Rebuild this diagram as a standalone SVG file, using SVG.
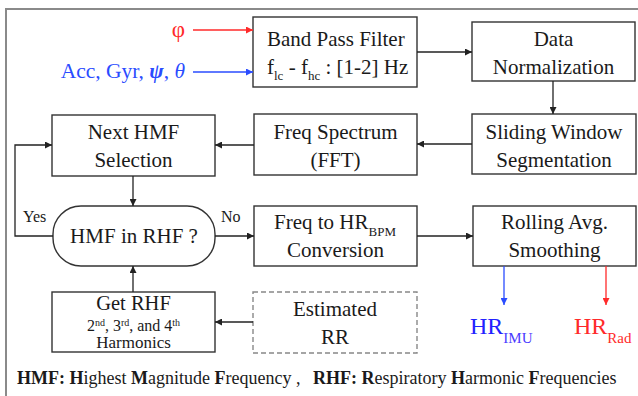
<svg xmlns="http://www.w3.org/2000/svg" width="638" height="396" viewBox="0 0 638 396" font-family="'Liberation Serif', 'Times New Roman', serif">
<defs>
<marker id="ah" viewBox="0 0 10 10" refX="10" refY="5" markerWidth="8" markerHeight="7" markerUnits="userSpaceOnUse" orient="auto"><path d="M0,0 L10,5 L0,10 z" fill="#222"/></marker>
<marker id="ahr" viewBox="0 0 10 10" refX="10" refY="5" markerWidth="8" markerHeight="7" markerUnits="userSpaceOnUse" orient="auto"><path d="M0,0 L10,5 L0,10 z" fill="#ff2a2a"/></marker>
<marker id="ahb" viewBox="0 0 10 10" refX="10" refY="5" markerWidth="8" markerHeight="7" markerUnits="userSpaceOnUse" orient="auto"><path d="M0,0 L10,5 L0,10 z" fill="#2a4cff"/></marker>
<style>
text, tspan { font-family: 'Liberation Serif', 'Times New Roman', serif; }
text { fill: #1a1a1a; }
.t { font-size: 21px; text-anchor: middle; }
.box { fill: #fff; stroke: #333; stroke-width: 1.4; }
.dash { fill: #fff; stroke: #888; stroke-width: 1.4; stroke-dasharray: 5,3; }
.ln { fill: none; stroke: #222; stroke-width: 1.3; marker-end: url(#ah); }
.lab { font-size: 16px; }
.leg { font-size: 18px; }
.b { font-weight: bold; }
</style>
</defs>
<rect x="0" y="0" width="638" height="396" fill="#fff"/>
<rect x="6" y="9" width="640" height="400" fill="none" stroke="#8a8a8a" stroke-width="2"/>

<g id="inputs">
<text x="185" y="37" font-size="23" text-anchor="end" style="fill:#ff2a2a">φ</text>
<text x="185" y="78" font-size="21.5" text-anchor="end" style="fill:#2a4cff">Acc, Gyr, <tspan font-weight="bold" font-style="italic">ψ</tspan>, <tspan font-style="italic">θ</tspan></text>
</g>

<g id="bpf">
<rect class="box" x="253" y="17" width="164" height="70"/>
<text x="267" y="46" font-size="21">Band Pass Filter</text>
<text x="267" y="74" font-size="21">f<tspan font-size="13" dy="6">lc</tspan><tspan dy="-6"> - f</tspan><tspan font-size="13" dy="6">hc</tspan><tspan dy="-6"> : [1-2] Hz</tspan></text>
</g>

<g id="norm">
<rect class="box" x="472" y="22" width="163" height="59"/>
<text class="t" x="553.5" y="46">Data</text>
<text class="t" x="553.5" y="74">Normalization</text>
</g>

<g id="sliding">
<rect class="box" x="472" y="114" width="164" height="60"/>
<text class="t" x="554" y="139">Sliding Window</text>
<text class="t" x="554" y="167">Segmentation</text>
</g>

<g id="fft">
<rect class="box" x="254" y="114" width="163" height="61"/>
<text class="t" x="335.5" y="139">Freq Spectrum</text>
<text class="t" x="335.5" y="167">(FFT)</text>
</g>

<g id="nexthmf">
<rect class="box" x="52" y="115" width="163" height="61"/>
<text class="t" x="133.5" y="139">Next HMF</text>
<text class="t" x="133.5" y="167">Selection</text>
</g>

<g id="decision">
<rect class="box" x="53" y="206" width="162" height="60" rx="28" ry="28"/>
<text class="t" x="134" y="243">HMF in RHF ?</text>
</g>

<g id="freq2hr">
<rect class="box" x="254" y="206" width="163" height="60"/>
<text x="274" y="229" font-size="21">Freq to HR<tspan font-size="13" dy="7">BPM</tspan></text>
<text class="t" x="335.5" y="257">Conversion</text>
</g>

<g id="rolling">
<rect class="box" x="473" y="206" width="163" height="60"/>
<text class="t" x="554.5" y="229">Rolling Avg.</text>
<text class="t" x="554.5" y="257">Smoothing</text>
</g>

<g id="getrhf">
<rect class="box" x="52" y="292" width="163" height="60"/>
<text x="133.5" y="310" font-size="20.5" text-anchor="middle">Get RHF</text>
<text x="133.5" y="331" font-size="16" text-anchor="middle">2<tspan font-size="10" dy="-5">nd</tspan><tspan dy="5">, 3</tspan><tspan font-size="10" dy="-5">rd</tspan><tspan dy="5">, and 4</tspan><tspan font-size="10" dy="-5">th</tspan></text>
<text x="133.5" y="348" font-size="17" text-anchor="middle">Harmonics</text>
</g>

<g id="estrr">
<rect class="dash" x="253" y="292" width="164" height="61"/>
<text class="t" x="335" y="316">Estimated</text>
<text class="t" x="335" y="344">RR</text>
</g>

<g id="outputs">
<text x="470" y="334" font-size="24" style="fill:#2222ff">HR<tspan font-size="15" dy="9" style="fill:#4a3cff">IMU</tspan></text>
<text x="574" y="334" font-size="24" style="fill:#ff2a2a">HR<tspan font-size="15" dy="9">Rad</tspan></text>
</g>

<g id="connectors">
<line x1="193" y1="30" x2="253" y2="30" stroke="#ff2a2a" stroke-width="1.3" marker-end="url(#ahr)"/>
<line x1="193" y1="72" x2="253" y2="72" stroke="#2a4cff" stroke-width="1.3" marker-end="url(#ahb)"/>
<line class="ln" x1="417" y1="52" x2="472" y2="52"/>
<line class="ln" x1="553" y1="81" x2="553" y2="114"/>
<line class="ln" x1="472" y1="144" x2="417" y2="144"/>
<line class="ln" x1="254" y1="145" x2="215" y2="145"/>
<line class="ln" x1="133" y1="176" x2="133" y2="206"/>
<polyline class="ln" points="53,236 15,236 15,145 52,145"/>
<line class="ln" x1="215" y1="236" x2="254" y2="236"/>
<line class="ln" x1="417" y1="236" x2="473" y2="236"/>
<line class="ln" x1="133" y1="292" x2="133" y2="266"/>
<line class="ln" x1="253" y1="322" x2="215" y2="322"/>
<line x1="504" y1="266" x2="504" y2="305" stroke="#2a4cff" stroke-width="1.3" marker-end="url(#ahb)"/>
<line x1="606" y1="266" x2="606" y2="305" stroke="#ff2a2a" stroke-width="1.3" marker-end="url(#ahr)"/>
<text class="lab" x="23" y="222">Yes</text>
<text class="lab" x="221" y="222">No</text>
</g>

<g id="legend">
<text class="leg" x="17" y="384"><tspan class="b">HMF: H</tspan>ighest <tspan class="b">M</tspan>agnitude <tspan class="b">F</tspan>requency ,</text>
<text class="leg" x="313" y="384"><tspan class="b">RHF: R</tspan>espiratory <tspan class="b">H</tspan>armonic <tspan class="b">F</tspan>requencies</text>
</g>
</svg>
